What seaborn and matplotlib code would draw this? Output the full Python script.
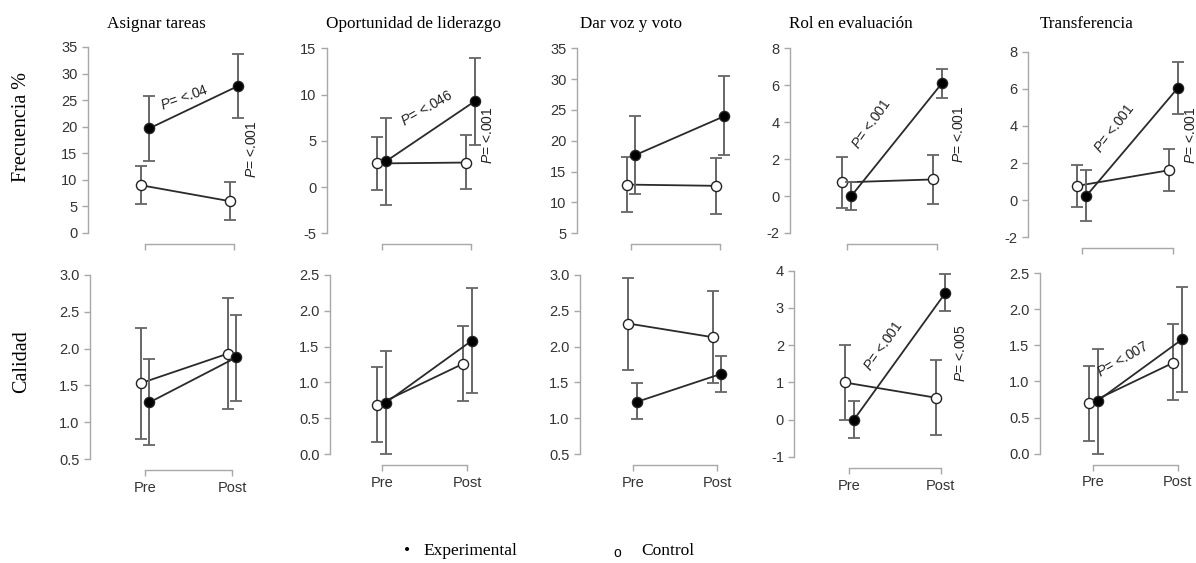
import numpy as np
import pandas as pd
import matplotlib
matplotlib.use("Agg")
import matplotlib.pyplot as plt
import seaborn as sns

# ---------------- data ----------------
panels = ["Asignar tareas", "Oportunidad de liderazgo", "Dar voz y voto",
          "Rol en evaluación", "Transferencia"]
rows = ["Frecuencia %", "Calidad"]
phases = ["Pre", "Post"]

# Frecuencia % (top row)
freq_exp_pre = [19.7, 2.8, 17.7, 0.0, 0.23]
freq_exp_pre_lo = [13.6, -1.9, 11.3, -0.76, -1.13]
freq_exp_pre_hi = [25.7, 7.5, 24.0, 0.77, 1.6]
freq_exp_post = [27.7, 9.3, 24.0, 6.1, 6.05]
freq_exp_post_lo = [21.6, 4.6, 17.7, 5.33, 4.66]
freq_exp_post_hi = [33.7, 14.0, 30.5, 6.86, 7.43]
freq_ctl_pre = [9.0, 2.55, 12.9, 0.74, 0.77]
freq_ctl_pre_lo = [5.5, -0.35, 8.5, -0.67, -0.36]
freq_ctl_pre_hi = [12.6, 5.4, 17.4, 2.1, 1.9]
freq_ctl_post = [6.0, 2.65, 12.7, 0.9, 1.61]
freq_ctl_post_lo = [2.5, -0.25, 8.2, -0.45, 0.5]
freq_ctl_post_hi = [9.6, 5.6, 17.2, 2.25, 2.74]

# Calidad (bottom row)
cal_exp_pre = [1.27, 0.72, 1.23, 0.0, 0.73]
cal_exp_pre_lo = [0.69, 0.0, 0.99, -0.5, 0.0]
cal_exp_pre_hi = [1.86, 1.44, 1.49, 0.5, 1.45]
cal_exp_post = [1.88, 1.58, 1.62, 3.4, 1.58]
cal_exp_post_lo = [1.29, 0.86, 1.37, 2.91, 0.86]
cal_exp_post_hi = [2.46, 2.31, 1.87, 3.9, 2.31]
cal_ctl_pre = [1.53, 0.69, 2.32, 1.0, 0.70]
cal_ctl_pre_lo = [0.78, 0.17, 1.67, 0.0, 0.17]
cal_ctl_pre_hi = [2.28, 1.22, 2.96, 2.0, 1.21]
cal_ctl_post = [1.93, 1.26, 2.13, 0.59, 1.26]
cal_ctl_post_lo = [1.18, 0.74, 1.49, -0.4, 0.74]
cal_ctl_post_hi = [2.68, 1.79, 2.78, 1.59, 1.79]

# y tick values per panel
freq_ticks = [[0, 5, 10, 15, 20, 25, 30, 35], [-5, 0, 5, 10, 15],
              [5, 10, 15, 20, 25, 30, 35], [-2, 0, 2, 4, 6, 8], [-2, 0, 2, 4, 6, 8]]
cal_ticks = [[0.5, 1.0, 1.5, 2.0, 2.5, 3.0], [0.0, 0.5, 1.0, 1.5, 2.0, 2.5],
             [0.5, 1.0, 1.5, 2.0, 2.5, 3.0], [-1, 0, 1, 2, 3, 4],
             [0.0, 0.5, 1.0, 1.5, 2.0, 2.5]]
cal_fmt = ["{:.1f}", "{:.1f}", "{:.1f}", "{:.0f}", "{:.1f}"]

# p-value annotations: (row, panel, label)
p_labels = [(0, 0, "<.04"), (0, 0, "<.001"), (0, 1, "<.046"), (0, 1, "<.001"),
            (0, 3, "<.001"), (0, 3, "<.001"), (0, 4, "<.001"), (0, 4, "<.001"),
            (1, 3, "<.001"), (1, 3, "<.005"), (1, 4, "<.007")]
# placement of those annotations (x in category units, y in data units, rotation)
p_place = [(0.44, 25.5, 20), (1.2, 15.8, 90), (0.51, 8.5, 30), (1.19, 5.6, 90),
           (0.28, 3.93, 55), (1.24, 3.35, 90), (0.36, 3.85, 53), (1.19, 3.5, 90),
           (0.37, 1.98, 55), (1.22, 1.8, 90), (0.35, 1.31, 30)]

# ---------------- style ----------------
sns.set_theme(style="white")
plt.rcParams["font.family"] = ["Liberation Sans", "DejaVu Sans"]
plt.rcParams["axes.unicode_minus"] = False
plt.rcParams["mathtext.fontset"] = "custom"
plt.rcParams["mathtext.it"] = "Liberation Sans:italic"
plt.rcParams["mathtext.rm"] = "Liberation Sans"

W, H = 1196, 563
fig = plt.figure(figsize=(W / 100, H / 100), dpi=100)

# layout in pixels: spine x, pre x, post x, top tick y, bottom tick y
layout = [
    [(88, 145, 234, 47, 233), (327, 381.7, 470.7, 48.3, 233.3), (577, 631, 720, 48.3, 233.3),
     (790, 846.7, 937.3, 48.3, 233), (1027.7, 1081.7, 1173.3, 51.7, 237.3)],
    [(90, 145, 232, 274.7, 459.3), (330, 381.7, 467.3, 274.7, 454.3), (580, 632.7, 717, 274.7, 454.3),
     (794.3, 849.3, 940.7, 270.7, 457), (1040, 1093.3, 1177.7, 273, 453.7)],
]

row_data = [
    dict(ep=freq_exp_pre, epl=freq_exp_pre_lo, eph=freq_exp_pre_hi,
         eo=freq_exp_post, eol=freq_exp_post_lo, eoh=freq_exp_post_hi,
         cp=freq_ctl_pre, cpl=freq_ctl_pre_lo, cph=freq_ctl_pre_hi,
         co=freq_ctl_post, col=freq_ctl_post_lo, coh=freq_ctl_post_hi, ticks=freq_ticks),
    dict(ep=cal_exp_pre, epl=cal_exp_pre_lo, eph=cal_exp_pre_hi,
         eo=cal_exp_post, eol=cal_exp_post_lo, eoh=cal_exp_post_hi,
         cp=cal_ctl_pre, cpl=cal_ctl_pre_lo, cph=cal_ctl_pre_hi,
         co=cal_ctl_post, col=cal_ctl_post_lo, coh=cal_ctl_post_hi, ticks=cal_ticks),
]

spine_col = "#a8a8a8"
err_col = "#666666"
line_col = "#2a2a2a"
dodge = 0.05
axes = {}

for r in range(2):
    d = row_data[r]
    for c in range(5):
        sx, px, qx, ty, by = layout[r][c]
        u = qx - px
        wpx = qx - sx + 40
        ax = fig.add_axes([sx / W, 1 - by / H, wpx / W, (by - ty) / H])
        axes[(r, c)] = ax
        ticks = d["ticks"][c]
        ax.set_ylim(ticks[0], ticks[-1])
        ax.set_xlim((sx - px) / u, (sx + wpx - px) / u)

        groups = [
            ("Control", -dodge, [d["cp"][c], d["co"][c]], [d["cpl"][c], d["col"][c]],
             [d["cph"][c], d["coh"][c]], "white"),
            ("Experimental", dodge, [d["ep"][c], d["eo"][c]], [d["epl"][c], d["eol"][c]],
             [d["eph"][c], d["eoh"][c]], "black"),
        ]
        for gi, (name, off, m, lo, hi, fc) in enumerate(groups):
            xs = np.arange(len(phases)) + off
            m = np.array(m); lo = np.array(lo); hi = np.array(hi)
            ax.errorbar(xs, m, yerr=[m - lo, hi - m], fmt="none", ecolor=err_col,
                        elinewidth=1.4, capsize=4, capthick=1.3, zorder=2 + gi * 2,
                        clip_on=False)
            df = pd.DataFrame({"x": xs, "y": m})
            sns.lineplot(data=df, x="x", y="y", ax=ax, color=line_col, linewidth=1.3,
                         marker="o", markersize=7.3, markerfacecolor=fc,
                         markeredgecolor="#222222", markeredgewidth=1.0,
                         legend=False, zorder=3 + gi * 2, clip_on=False)
        ax.set_xlabel("")
        ax.set_ylabel("")

        # range-frame axes
        for s in ["top", "right"]:
            ax.spines[s].set_visible(False)
        ax.spines["left"].set_bounds(ticks[0], ticks[-1])
        ax.spines["bottom"].set_bounds(0, 1)
        ax.spines["bottom"].set_position(("outward", 8))
        for s in ["left", "bottom"]:
            ax.spines[s].set_color(spine_col)
            ax.spines[s].set_linewidth(1.0)
        ax.set_yticks(ticks)
        if r == 0:
            ax.set_yticklabels([f"{t:g}" for t in ticks])
        else:
            ax.set_yticklabels([cal_fmt[c].format(t) for t in ticks])
        ax.set_xticks([0, 1])
        ax.set_xticklabels(phases if r == 1 else ["", ""])
        ax.tick_params(axis="both", which="major", direction="out", length=4.5,
                       width=1.0, color=spine_col, labelsize=10.5, labelcolor="#333333",
                       left=True, bottom=True, pad=3)
        ax.set_facecolor("none")
        ax.grid(False)

# p-value annotations
for (r, c, lab), (x, y, rot) in zip(p_labels, p_place):
    axes[(r, c)].text(x, y, r"$P$= " + lab, rotation=rot, rotation_mode="anchor",
                      ha="center", va="center", fontsize=10, color="#222222",
                      clip_on=False, zorder=10)

# titles
title_x = [156, 413, 631, 851, 1087]
for c in range(5):
    fig.text(title_x[c] / W, 1 - 24 / H, panels[c], ha="center", va="center",
             fontsize=12.3, family="Liberation Serif", color="black")

# row labels
fig.text(22 / W, 1 - 127 / H, rows[0], rotation=90, ha="center", va="center",
         fontsize=14.5, family="Liberation Serif", color="black")
fig.text(22 / W, 1 - 362 / H, rows[1], rotation=90, ha="center", va="center",
         fontsize=14.5, family="Liberation Serif", color="black")

# legend (text style as in reference)
fig.text(407 / W, 1 - 551 / H, "•", ha="center", va="center", fontsize=12.5,
         family="Liberation Serif", color="black")
fig.text(423 / W, 1 - 551 / H, "Experimental", ha="left", va="center", fontsize=12.5,
         family="Liberation Serif", color="black")
fig.text(617 / W, 1 - 553 / H, "o", ha="center", va="center", fontsize=10,
         family="Liberation Sans", color="black")
fig.text(641 / W, 1 - 551 / H, "Control", ha="left", va="center", fontsize=12.5,
         family="Liberation Serif", color="black")

fig.savefig("out.png", dpi=100, facecolor="white")
